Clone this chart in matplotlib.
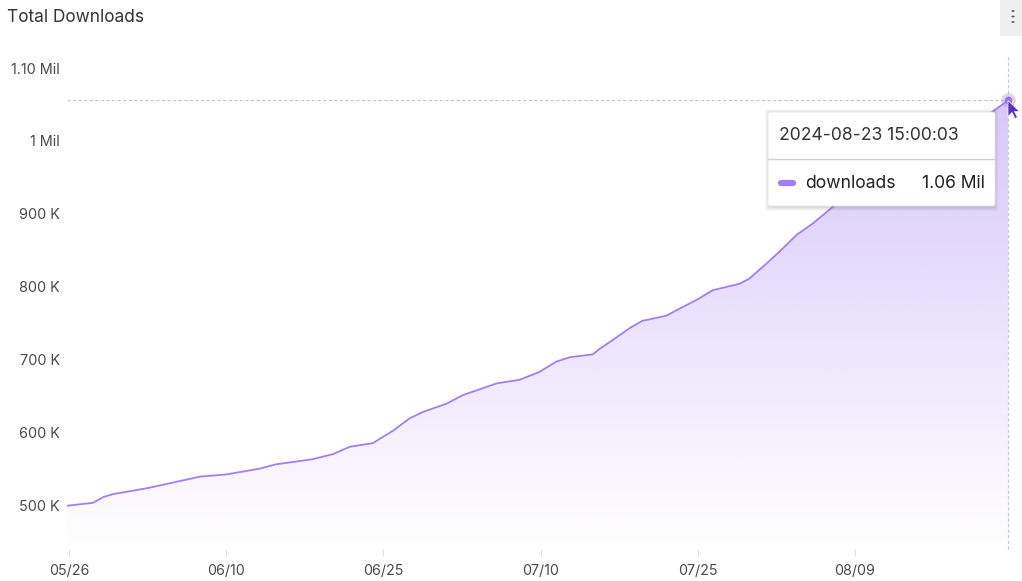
import matplotlib
matplotlib.use("Agg")
import matplotlib.pyplot as plt
import matplotlib.dates as mdates
import numpy as np
import pandas as pd
from matplotlib.patches import FancyBboxPatch, Rectangle, Polygon
from matplotlib.lines import Line2D
from matplotlib.colors import to_rgb

plt.rcParams['font.family'] = ['Inter', 'DejaVu Sans']

# ---- data ----
timestamps = [
    "2024-05-25 19:00:00", "2024-05-28 07:00:00", "2024-05-29 07:00:00", "2024-05-30 05:00:00",
    "2024-06-02 10:00:00", "2024-06-03 17:00:00", "2024-06-07 12:00:00", "2024-06-10 00:00:00",
    "2024-06-13 05:00:00", "2024-06-14 19:00:00", "2024-06-18 07:00:00", "2024-06-20 05:00:00",
    "2024-06-21 19:00:00", "2024-06-24 00:00:00", "2024-06-25 00:00:00", "2024-06-25 22:00:00",
    "2024-06-27 12:00:00", "2024-06-28 19:00:00", "2024-07-01 00:00:00", "2024-07-02 14:00:00",
    "2024-07-04 05:00:00", "2024-07-05 19:00:00", "2024-07-08 00:00:00", "2024-07-09 22:00:00",
    "2024-07-11 12:00:00", "2024-07-12 19:00:00", "2024-07-15 00:00:00", "2024-07-15 14:00:00",
    "2024-07-16 22:00:00", "2024-07-18 12:00:00", "2024-07-19 17:00:00", "2024-07-22 00:00:00",
    "2024-07-23 07:00:00", "2024-07-24 19:00:00", "2024-07-26 10:00:00", "2024-07-29 00:00:00",
    "2024-07-29 22:00:00", "2024-07-31 12:00:00", "2024-08-01 19:00:00", "2024-08-03 10:00:00",
    "2024-08-05 00:00:00", "2024-08-06 22:00:00", "2024-08-08 10:00:00", "2024-08-10 10:00:00",
    "2024-08-12 07:00:00", "2024-08-14 05:00:00", "2024-08-16 02:00:00", "2024-08-18 00:00:00",
    "2024-08-19 22:00:00", "2024-08-22 02:00:00", "2024-08-23 15:00:03",
]
downloads = [
    499, 503, 511, 515, 523, 527, 539, 542, 550, 556, 563, 570, 580, 585, 594, 602,
    619, 628, 639, 651, 659, 667, 672, 683, 697, 703, 707, 714, 727, 743, 753, 760,
    770, 781, 795, 804, 811, 831, 848, 871, 887, 910, 925, 945, 963, 980, 997, 1012,
    1027, 1040, 1056,
]  # thousands
y_ticks = [500, 600, 700, 800, 900, 1000, 1100]
y_tick_labels = ["500 K", "600 K", "700 K", "800 K", "900 K", "1 Mil", "1.10 Mil"]
x_tick_dates = ["2024-05-26", "2024-06-10", "2024-06-25", "2024-07-10", "2024-07-25", "2024-08-09"]
x_tick_labels = ["05/26", "06/10", "06/25", "07/10", "07/25", "08/09"]
tooltip_time = "2024-08-23 15:00:03"
tooltip_series = "downloads"
tooltip_value = "1.06 Mil"
title = "Total Downloads"

W, H = 1022, 581
LINE = "#a47ef5"
x = mdates.date2num(pd.to_datetime(timestamps, format="%Y-%m-%d %H:%M:%S"))
y = np.array(downloads, dtype=float)

fig = plt.figure(figsize=(W / 100, H / 100), dpi=100)
fig.patch.set_facecolor("white")

def fx(px):
    return px / W

def fy(py):
    return 1 - py / H

ax_l, ax_r, ax_t, ax_b = 66.7, 1008.3, 55, 549
ax = fig.add_axes([fx(ax_l), fy(ax_b), (ax_r - ax_l) / W, (ax_b - ax_t) / H])
ax.set_xlim(x[0], x[-1])
ymin, ymax = 439.6, 1118.1
ax.set_ylim(ymin, ymax)
for s in ax.spines.values():
    s.set_visible(False)
ax.patch.set_alpha(0)

# gradient fill under the line
poly = ax.fill_between(x, y, ymin, color="none", lw=0)
r, g, b = to_rgb("#a07af3")
n = 256
alpha = np.linspace(0.0, 0.42, n)
grad = np.zeros((n, 1, 4))
grad[:, 0, 0] = r
grad[:, 0, 1] = g
grad[:, 0, 2] = b
grad[:, 0, 3] = alpha
im = ax.imshow(grad, extent=[x[0], x[-1], ymin, y.max()], origin="lower",
               aspect="auto", zorder=1, interpolation="bilinear")
im.set_clip_path(poly.get_paths()[0], transform=ax.transData)

ax.plot(x, y, color=LINE, lw=1.3, zorder=3, solid_joinstyle="round")

# hover guides
ax.axhline(y[-1], color="#c8c8c8", lw=0.8, ls=(0, (3, 2)), zorder=2)
ax.axvline(x[-1], color="#c8c8c8", lw=0.8, ls=(0, (3, 2)), zorder=2, clip_on=False)
ax.scatter([x[-1]], [y[-1]], s=110, color=LINE, alpha=0.35, zorder=4, lw=0, clip_on=False)
ax.scatter([x[-1]], [y[-1]], s=30, color="#9b70f0", zorder=5, lw=0, clip_on=False)

# ticks
ax.set_yticks(y_ticks)
ax.set_yticklabels(y_tick_labels)
ax.tick_params(axis="y", length=0, pad=5, labelsize=10.4, labelcolor="#4a4a4a")
ax.set_xticks(mdates.date2num(pd.to_datetime(x_tick_dates)))
ax.set_xticklabels(x_tick_labels)
ax.tick_params(axis="x", length=5, width=0.8, color="#e0e0e0", pad=6,
               labelsize=10.3, labelcolor="#4a4a4a", direction="out")

# title
fig.text(fx(7), fy(17), title, fontsize=12.4, color="#333333", va="center", ha="left")

# menu button
fig.patches.append(Rectangle((fx(1000), fy(36)), fx(22), 36 / H, transform=fig.transFigure,
                             facecolor="#f0f0f0", edgecolor="none", zorder=1))
for py in (11, 16.5, 22):
    fig.patches.append(plt.Circle((fx(1013), fy(py)), 1.6 / W, transform=fig.transFigure,
                                  facecolor="#555555", edgecolor="none", zorder=2))

# tooltip
tx0, tx1, ty0, ty1 = 768, 995, 112, 206
for i, a in enumerate([0.03, 0.03, 0.03, 0.04]):
    d = 4 - i
    fig.patches.append(FancyBboxPatch((fx(tx0 - d + 1), fy(ty1 + d + 1)), (tx1 - tx0 + 2 * d - 2) / W,
                                      (ty1 - ty0 + 2 * d) / H, boxstyle="round,pad=0,rounding_size=0.004",
                                      transform=fig.transFigure, facecolor="black", alpha=a,
                                      edgecolor="none", zorder=8))
fig.patches.append(FancyBboxPatch((fx(tx0), fy(ty1)), (tx1 - tx0) / W, (ty1 - ty0) / H,
                                  boxstyle="round,pad=0,rounding_size=0.003",
                                  transform=fig.transFigure, facecolor="white",
                                  edgecolor="#e4e4e4", lw=0.6, zorder=9))
fig.lines.append(Line2D([fx(tx0), fx(tx1)], [fy(159), fy(159)], transform=fig.transFigure,
                        color="#d0d0d0", lw=1, zorder=10))
fig.text(fx(779), fy(135), tooltip_time, fontsize=12.6, color="#333333", va="center",
         ha="left", zorder=11)
fig.lines.append(Line2D([fx(781), fx(793)], [fy(183), fy(183)], transform=fig.transFigure,
                        color=LINE, lw=4.5, solid_capstyle="round", zorder=11))
fig.text(fx(805), fy(183), tooltip_series, fontsize=12.6, color="#222222", va="center",
         ha="left", zorder=11)
fig.text(fx(985), fy(183), tooltip_value, fontsize=12.6, color="#222222", va="center",
         ha="right", zorder=11)

# mouse cursor
tipx, tipy = 1008, 100.5
shape = [(0, 0), (0, 16), (4, 12), (7, 18), (9.5, 17), (6.5, 11), (11.5, 11)]
fig.patches.append(Polygon([(fx(tipx + dx), fy(tipy + dy)) for dx, dy in shape],
                           closed=True, transform=fig.transFigure, facecolor="#5a2fc2",
                           edgecolor="white", lw=0.5, zorder=12))

fig.savefig("out.png", dpi=100)
